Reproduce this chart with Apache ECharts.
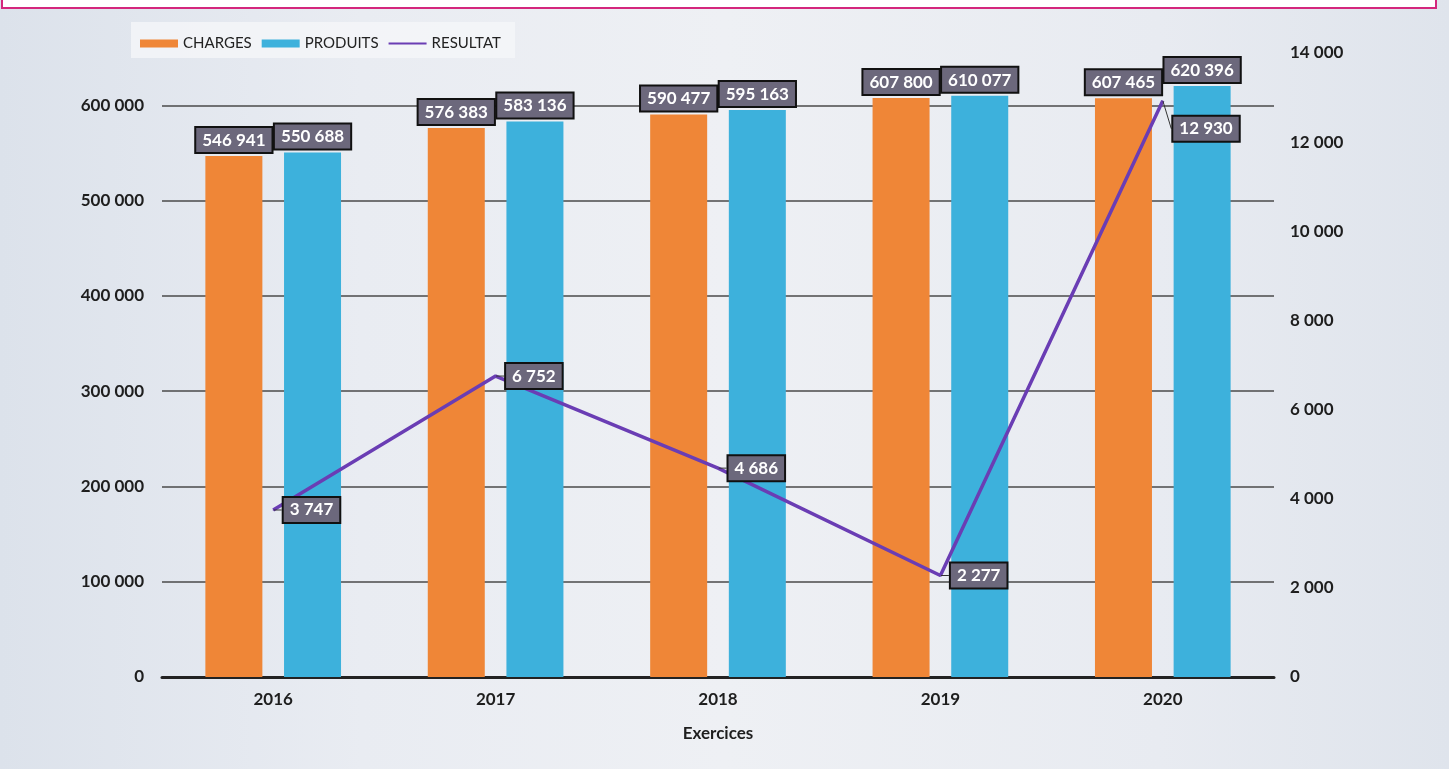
<!DOCTYPE html>
<html>
<head>
<meta charset="utf-8">
<script src="https://cdn.jsdelivr.net/npm/echarts@6/dist/echarts.min.js"></script>
<style>
html,body{margin:0;padding:0;}
body{width:1449px;height:769px;background:linear-gradient(90deg,#dce2eb 0%,#e9ecf2 25%,#eef0f4 50%,#e8ebf1 80%,#dfe4ec 100%);}
#chart{width:1449px;height:769px;}
</style>
</head>
<body>
<div id="chart"></div>
<script>
const categories = ['2016', '2017', '2018', '2019', '2020'];
const charges = [546941, 576383, 590477, 607800, 607465];
const produits = [550688, 583136, 595163, 610077, 620396];
const resultat = [3747, 6752, 4686, 2277, 12930];
const leftTicks = [0, 100000, 200000, 300000, 400000, 500000, 600000];
const rightTicks = [0, 2000, 4000, 6000, 8000, 10000, 12000, 14000];

const fmt = v => String(v).replace(/\B(?=(\d{3})+(?!\d))/g, ' ');
const FONT = 'Lato, "Open Sans", sans-serif';

const boxLabel = {
  show: true,
  formatter: p => fmt(p.value),
  color: '#fff',
  fontWeight: 'bold',
  fontSize: 17,
  fontFamily: FONT,
  backgroundColor: '#6c687c',
  borderColor: '#111',
  borderWidth: 2,
  padding: [4, 6, 3, 6]
};
const tickText = { fontWeight: 'bold', fontSize: 17, color: '#1e1e1e', fontFamily: FONT };

const chart = echarts.init(document.getElementById('chart'));
chart.setOption({
  animation: false,
  textStyle: { fontFamily: FONT },
  graphic: [
    { type: 'rect', shape: { x: 2, y: -20, width: 1434, height: 28 }, style: { fill: '#fff', stroke: '#d4277d', lineWidth: 2 }, z: 0 },
    { type: 'rect', shape: { x: 131, y: 22, width: 384, height: 36 }, style: { fill: 'rgba(245,246,249,0.8)' }, z: -1 }
  ],
  legend: {
    left: 135, top: 31,
    itemWidth: 38, itemHeight: 8, itemGap: 10,
    textStyle: { fontSize: 15, color: '#222', fontFamily: FONT },
    data: [
      { name: 'CHARGES', icon: 'rect' },
      { name: 'PRODUITS', icon: 'rect' },
      { name: 'RESULTAT', icon: 'path://M0,3 L40,3 L40,5 L0,5 Z', itemStyle: { color: '#6a3db4' } }
    ]
  },
  grid: { left: 162, right: 175, top: 53, bottom: 92 },
  xAxis: {
    type: 'category',
    data: categories,
    name: 'Exercices',
    nameLocation: 'middle',
    nameGap: 48,
    nameTextStyle: tickText,
    axisLine: { lineStyle: { color: '#222', width: 3 } },
    axisTick: { show: false },
    axisLabel: Object.assign({ margin: 14 }, tickText)
  },
  yAxis: [
    {
      type: 'value', min: 0, max: 655000, interval: 100000,
      axisLine: { show: false }, axisTick: { show: false },
      axisLabel: Object.assign({ margin: 18, showMaxLabel: false,
        formatter: v => leftTicks.includes(v) ? fmt(v) : '' }, tickText),
      splitLine: { show: true, showMaxLine: false, lineStyle: { color: '#4a4a4a', width: 1.5 } }
    },
    {
      type: 'value', min: 0, max: 14000, interval: 2000,
      axisLine: { show: false }, axisTick: { show: false },
      axisLabel: Object.assign({ margin: 16,
        formatter: v => rightTicks.includes(v) ? fmt(v) : '' }, tickText),
      splitLine: { show: false }
    }
  ],
  series: [
    {
      name: 'CHARGES', type: 'bar', data: charges,
      barWidth: 57, barGap: '38%',
      itemStyle: { color: '#ef8637' },
      label: Object.assign({}, boxLabel, { position: 'top', distance: 4 }),
      z: 3
    },
    {
      name: 'PRODUITS', type: 'bar', data: produits,
      barWidth: 57,
      itemStyle: { color: '#3db1dc' },
      label: Object.assign({}, boxLabel, { position: 'top', distance: 4 }),
      z: 3
    },
    {
      name: 'RESULTAT', type: 'line', yAxisIndex: 1, data: resultat,
      symbol: 'circle', symbolSize: 1, showSymbol: true,
      lineStyle: { color: '#6a3db4', width: 3.5 },
      itemStyle: { color: '#6a3db4' },
      label: Object.assign({}, boxLabel, { position: 'right', distance: 10 }),
      labelLayout: p => (p.dataIndex === 4 ? { dy: 28 } : {}),
      labelLine: { show: true, lineStyle: { color: '#333', width: 1 } },
      z: 5
    }
  ]
});
</script>
</body>
</html>
